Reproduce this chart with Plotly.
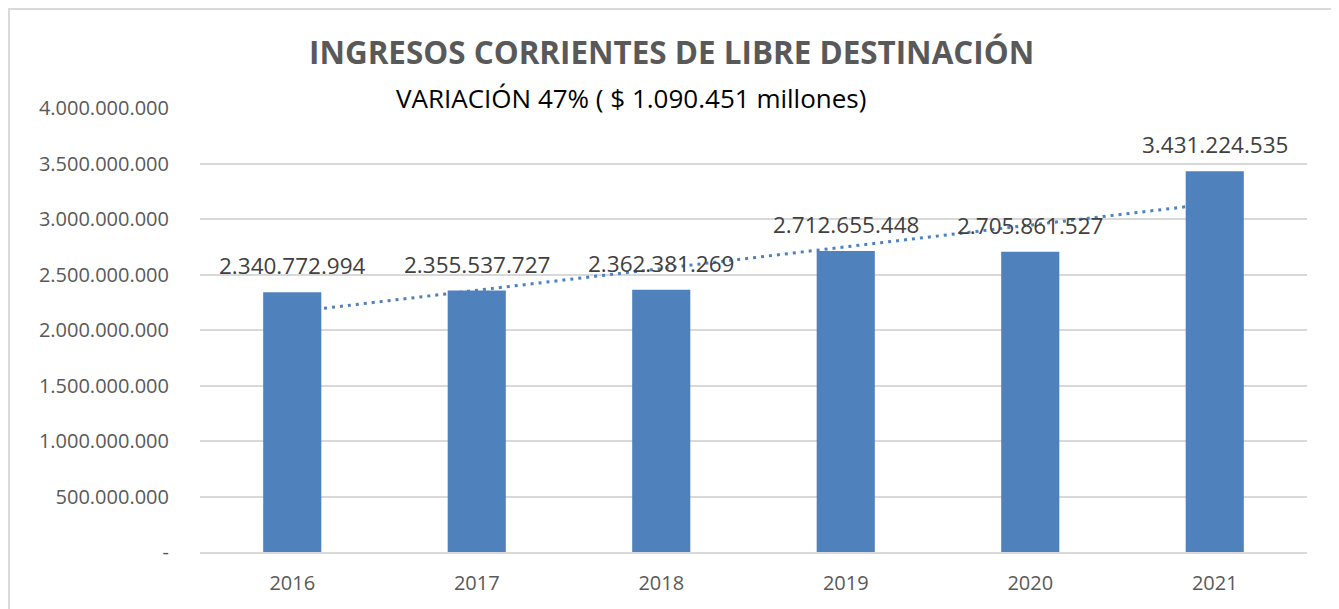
import numpy as np
import plotly.graph_objects as go

# Data
years = ["2016", "2017", "2018", "2019", "2020", "2021"]
values = [2340772994, 2355537727, 2362381269, 2712655448, 2705861527, 3431224535]
y_ticks = [0, 500000000, 1000000000, 1500000000, 2000000000, 2500000000,
           3000000000, 3500000000, 4000000000]

title_text = "INGRESOS CORRIENTES DE LIBRE DESTINACIÓN"
subtitle_text = "VARIACIÓN 47% ( $ 1.090.451 millones)"


def fmt(v):
    return "-" if v == 0 else f"{v:,}".replace(",", ".")


OFF = 8  # page body margin
W, H = 1339 - OFF, 609 - OFF
# desired screen positions of plot area
SX0, SX1, SY0, SY1 = 200, 1307, 108, 552
L, R, T, B = SX0 - OFF, W - (SX1 - OFF), SY0 - OFF, H - (SY1 - OFF)
pw, ph = W - L - R, H - T - B


def px_x(x):
    return (x - SX0) / pw


def px_y(y):
    return (SY1 - y) / ph


BAR = "#4F81BD"
FONT = "Open Sans"

fig = go.Figure()
fig.add_trace(go.Bar(
    x=years, y=values, marker=dict(color=BAR, line=dict(width=0)),
    width=0.315, hoverinfo="x+y", showlegend=False,
))

# Linear trendline (least squares over category index)
idx = np.arange(len(values))
slope, intercept = np.polyfit(idx, np.array(values, dtype=float), 1)
fig.add_shape(type="line", xref="x", yref="y",
              x0=int(idx[0]), x1=int(idx[-1]),
              y0=slope * idx[0] + intercept, y1=slope * idx[-1] + intercept,
              line=dict(color=BAR, width=3, dash="3px,5px"), layer="between")

annotations = []
for i, v in enumerate(values):
    annotations.append(dict(
        x=i, y=v, xref="x", yref="y", text=fmt(v), showarrow=False,
        yanchor="bottom", yshift=9, font=dict(family=FONT, size=22.5, color="#404040"),
    ))

annotations.append(dict(
    x=px_x(671), y=px_y(52), xref="paper", yref="paper", text=f"<b>{title_text}</b>",
    showarrow=False, xanchor="center", yanchor="middle",
    font=dict(family=FONT, size=31.4, color="#595959"),
))
annotations.append(dict(
    x=px_x(631), y=px_y(98), xref="paper", yref="paper", text=subtitle_text,
    showarrow=False, xanchor="center", yanchor="middle",
    font=dict(family=FONT, size=26, color="#000000"),
))

# Outer chart border
fig.add_shape(type="rect", xref="paper", yref="paper",
              x0=px_x(9), x1=px_x(1333), y0=px_y(9), y1=px_y(615),
              line=dict(color="#D9D9D9", width=2), layer="below")

fig.update_layout(
    width=W, height=H,
    margin=dict(l=L, r=R, t=T, b=B, autoexpand=False),
    paper_bgcolor="white", plot_bgcolor="white",
    font=dict(family=FONT, color="#595959"),
    annotations=annotations,
    xaxis=dict(type="category", range=[-0.5, len(years) - 0.5], autorange=False,
               showgrid=False, showline=True, linecolor="#D9D9D9",
               linewidth=2, ticks="", tickfont=dict(size=20, color="#595959"),
               ticklabelstandoff=12, zeroline=False),
    yaxis=dict(range=[0, 4000000000], tickvals=y_ticks, ticktext=[fmt(v) for v in y_ticks],
               showgrid=True, gridcolor="#D9D9D9", gridwidth=2, zeroline=False,
               showline=False, ticks="", tickfont=dict(size=20, color="#595959"),
               ticklabelstandoff=30),
)

fig.write_html("out.html")
